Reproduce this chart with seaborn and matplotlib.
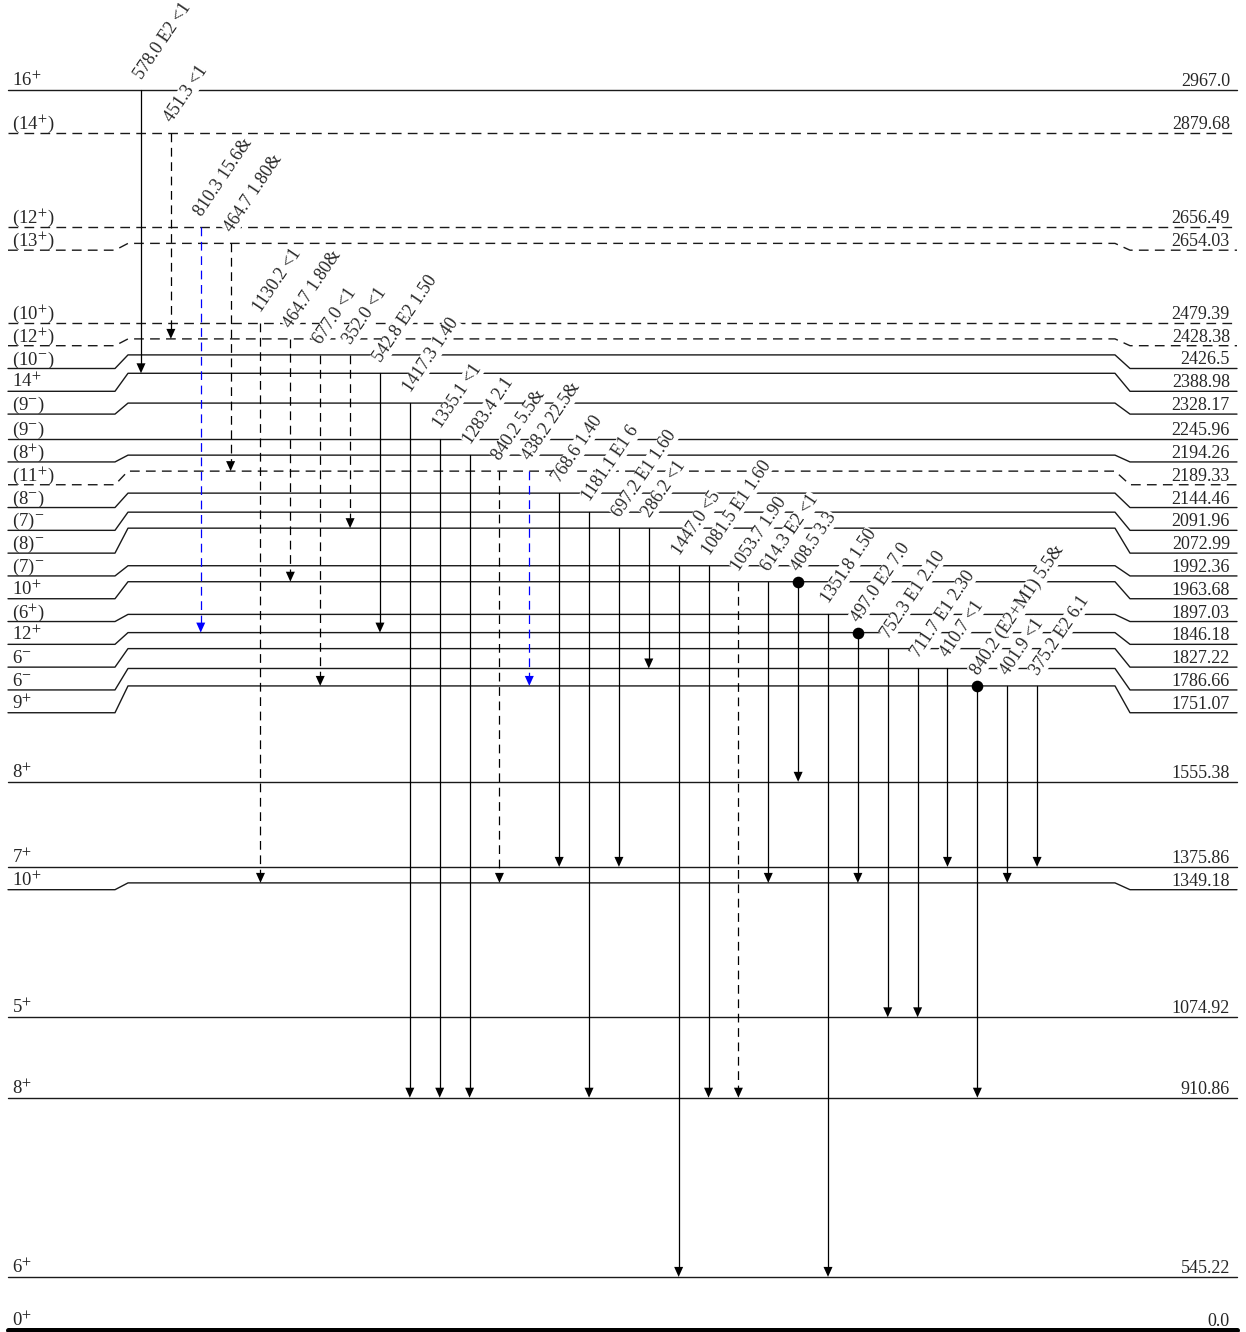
import matplotlib
matplotlib.use("Agg")
import matplotlib.pyplot as plt
import seaborn as sns

# levels, top to bottom
level_energy = [2967.0, 2879.68, 2656.49, 2654.03, 2479.39, 2428.38, 2426.5, 2388.98,
                2328.17, 2245.96, 2194.26, 2189.33, 2144.46, 2091.96, 2072.99, 1992.36,
                1963.68, 1897.03, 1846.18, 1827.22, 1786.66, 1751.07, 1555.38, 1375.86,
                1349.18, 1074.92, 910.86, 545.22, 0.0]
level_jpi = ["16$^{+}$", "(14$^{+}$)", "(12$^{+}$)", "(13$^{+}$)", "(10$^{+}$)", "(12$^{+}$)",
             "(10$^{-}$)", "14$^{+}$", "(9$^{-}$)", "(9$^{-}$)", "(8$^{+}$)", "(11$^{+}$)",
             "(8$^{-}$)", "(7)$^{-}$", "(8)$^{-}$", "(7)$^{-}$", "10$^{+}$", "(6$^{+}$)",
             "12$^{+}$", "6$^{-}$", "6$^{-}$", "9$^{+}$", "8$^{+}$", "7$^{+}$", "10$^{+}$",
             "5$^{+}$", "8$^{+}$", "6$^{+}$", "0$^{+}$"]
level_tentative = [False, True, True, True, True, True, False, False, False, False, False,
                   True, False, False, False, False, False, False, False, False, False,
                   False, False, False, False, False, False, False, False]

# gamma rays, left to right
gamma_energy = [578.0, 451.3, 810.3, 464.7, 1130.2, 464.7, 677.0, 352.0, 542.8, 1417.3,
                1335.1, 1283.4, 840.2, 438.2, 768.6, 1181.1, 697.2, 286.2, 1447.0, 1081.5,
                1053.7, 614.3, 408.5, 1351.8, 497.0, 752.3, 711.7, 410.7, 840.2, 401.9, 375.2]
gamma_mult = ["E2", "", "", "", "", "", "", "", "E2", "", "", "", "", "", "", "E1", "E1", "",
              "", "E1", "", "E2", "", "", "E2", "E1", "E1", "", "(E2+M1)", "", "E2"]
gamma_intensity = ["<1", "<1", "15.6&", "1.80&", "<1", "1.80&", "<1", "<1", "1.50", "1.40",
                   "<1", "2.1", "5.5&", "22.5&", "1.40", "6", "1.60", "<1", "<5", "1.60",
                   "1.90", "<1", "3.3", "1.50", "7.0", "2.10", "2.30", "<1", "5.5&", "<1", "6.1"]
gamma_from = [2967.0, 2879.68, 2656.49, 2654.03, 2479.39, 2428.38, 2426.5, 2426.5, 2388.98,
              2328.17, 2245.96, 2194.26, 2189.33, 2189.33, 2144.46, 2091.96, 2072.99, 2072.99,
              1992.36, 1992.36, 1963.68, 1963.68, 1963.68, 1897.03, 1846.18, 1827.22, 1786.66,
              1786.66, 1751.07, 1751.07, 1751.07]
gamma_to = [2388.98, 2428.38, 1846.18, 2189.33, 1349.18, 1963.68, 1751.07, 2072.99, 1846.18,
            910.86, 910.86, 910.86, 1349.18, 1751.07, 1375.86, 910.86, 1375.86, 1786.66,
            545.22, 910.86, 910.86, 1349.18, 1555.38, 545.22, 1349.18, 1074.92, 1074.92,
            1375.86, 910.86, 1349.18, 1375.86]
gamma_tentative = [False, True, True, True, True, True, True, True, False, False, False, False,
                   True, True, False, False, False, False, False, False, True, False, False,
                   False, False, False, False, False, False, False, False]
gamma_highlight = [False, False, True, False, False, False, False, False, False, False, False,
                   False, False, True, False, False, False, False, False, False, False, False,
                   False, False, False, False, False, False, False, False, False]
gamma_coinc = [False] * 22 + [True, False, True, False, False, False, True, False, False]

# layout (pixels of the 1246 x 1332 canvas, y scale in px per keV)
W, H = 1246, 1332
PX = 0.4901
TOP_PX = 90
MIN_GAP = 16 / PX
LABEL_GAP = 22.8 / PX
GROUND_GAP = 53 / PX
X_LEFT, XL0, XL1, XR0, XR1, X_RIGHT = 8, 115, 128, 1115, 1130, 1237
GX0, GDX = 141, 29.87
DASH = (0, (7, 4.5))
LINE = "#1a1a1a"

sns.set_theme(style="white")
plt.rcParams["font.family"] = ["Liberation Serif", "DejaVu Serif"]
plt.rcParams["mathtext.fontset"] = "stix"

# spread nearly degenerate levels (bottom-up), then their labels (top-down)
n = len(level_energy)
disp = [0.0] * n
prev = None
for i in range(n - 2, -1, -1):
    e = level_energy[i]
    disp[i] = e if prev is None else max(e, prev + MIN_GAP)
    prev = disp[i]
disp[n - 1] = disp[n - 2] - GROUND_GAP
lab = [0.0] * n
for i in range(n):
    lab[i] = disp[i] if i == 0 else min(disp[i], lab[i - 1] - LABEL_GAP)
pos = {e: disp[i] for i, e in enumerate(level_energy)}

y_top = level_energy[0] + TOP_PX / PX
y_bot = y_top - H / PX

fig = plt.figure(figsize=(W / 100, H / 100), dpi=100)
ax = fig.add_axes([0, 0, 1, 1])
ax.set_xlim(0, W)
ax.set_ylim(y_bot, y_top)
ax.axis("off")

for i in range(n):
    d, l = disp[i], lab[i]
    if abs(d - l) < 1e-6:
        xs, ys = [X_LEFT, X_RIGHT], [d, d]
    else:
        xs = [X_LEFT, XL0, XL1, XR0, XR1, X_RIGHT]
        ys = [l, l, d, d, l, l]
    lw = 3.6 if i == n - 1 else 1.0
    ax.plot(xs, ys, color="black" if i == n - 1 else LINE, lw=lw,
            ls=DASH if level_tentative[i] else "-", zorder=1)
    ax.text(12, l + 4 / PX, level_jpi[i], ha="left", va="baseline", fontsize=13.5, zorder=2)
    ax.text(1230, l + 4 / PX, str(level_energy[i]), ha="right", va="baseline",
            fontsize=13, zorder=2)

dot_x, dot_y = [], []
for k in range(len(gamma_energy)):
    x = GX0 + GDX * k
    y0 = pos[gamma_from[k]]
    y1 = pos[gamma_to[k]]
    col = "blue" if gamma_highlight[k] else "black"
    head = 10 / PX
    ax.plot([x, x], [y0, y1 + head], color=col, lw=0.9,
            ls=DASH if gamma_tentative[k] else "-", zorder=2)
    ax.fill([x, x - 4.5, x + 4.5], [y1, y1 + head, y1 + head], color=col, lw=0, zorder=3)
    parts = [str(gamma_energy[k]), gamma_mult[k], gamma_intensity[k]]
    txt = " ".join(p for p in parts if p)
    ax.text(x + 1, y0 + 10 / PX, txt, rotation=56, rotation_mode="anchor",
            ha="left", va="baseline", fontsize=13, zorder=4,
            bbox=dict(boxstyle="square,pad=0.02", fc="white", ec="none"))
    if gamma_coinc[k]:
        dot_x.append(x)
        dot_y.append(y0)

sns.scatterplot(x=dot_x, y=dot_y, ax=ax, color="black", s=70, linewidth=0, zorder=5,
                legend=False)

fig.savefig("out.png", dpi=100)
